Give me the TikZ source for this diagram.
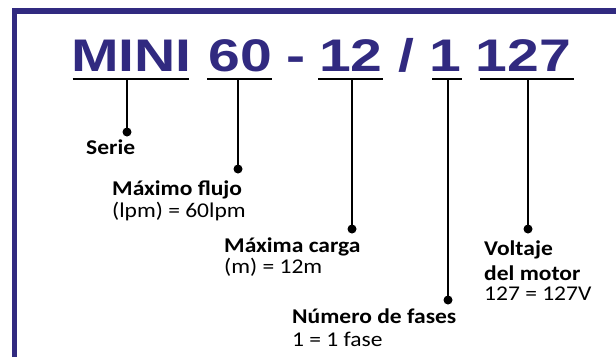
\documentclass[tikz,border=0pt]{standalone}
\usepackage{fontspec}
\setmainfont{Carlito}[FakeStretch=1.12]
\newfontfamily\titlefont{Liberation Sans}[FakeStretch=1.25]
\definecolor{navy}{RGB}{49,42,128}
\tikzset{
  titletext/.style={anchor=base,inner sep=0pt,text=navy,font=\titlefont\bfseries\fontsize{45.7}{50}\selectfont},
  lblbold/.style={anchor=base west,inner sep=0pt,font=\bfseries\fontsize{21}{24}\selectfont},
  lblreg/.style={anchor=base west,inner sep=0pt,font=\fontsize{21}{24}\selectfont},
  uline/.style={line width=2.5pt,black},
  stem/.style={line width=2.4pt,black},
  dotnode/.style={circle,fill=black,inner sep=0pt,minimum size=9pt},
  frameline/.style={line width=5.5pt,navy}
}
\begin{document}
\begin{tikzpicture}[x=1pt,y=-1pt]
\useasboundingbox (0,0) rectangle (616,357);
% frame
\coordinate (fbl) at (14.5,357);
\coordinate (ftl) at (14.5,11);
\coordinate (ftr) at (616,11);
\draw[frameline] (fbl) -- (ftl) -- (ftr);
% title
\node[titletext] (tmini) at (131.3,71.7) {MINI};
\node[titletext] (tsixty) at (240.4,71.7) {60};
\node[titletext] (tdash) at (296.5,71.7) {-};
\node[titletext] (ttwelve) at (350.8,71.7) {12};
\node[titletext] (tslash) at (406.5,71.7) {/};
\node[titletext] (tone) at (445.6,71.7) {1};
\node[titletext] (tvolt) at (523.6,71.7) {127};
% underlines
\coordinate (u1a) at (72.7,79); \coordinate (u1b) at (189,79);
\coordinate (u2a) at (207,79);  \coordinate (u2b) at (271.7,79);
\coordinate (u3a) at (318,79);  \coordinate (u3b) at (383,79);
\coordinate (u4a) at (432,79);  \coordinate (u4b) at (462,79);
\coordinate (u5a) at (480,79);  \coordinate (u5b) at (574,79);
\draw[uline] (u1a) -- (u1b);
\draw[uline] (u2a) -- (u2b);
\draw[uline] (u3a) -- (u3b);
\draw[uline] (u4a) -- (u4b);
\draw[uline] (u5a) -- (u5b);
% stems and dots
\coordinate (s1) at (127,79);
\coordinate (s2) at (238,79);
\coordinate (s3) at (352,79);
\coordinate (s4) at (448,79);
\coordinate (s5) at (528,79);
\node[dotnode] (d1) at (127,132) {};
\node[dotnode] (d2) at (238,169) {};
\node[dotnode] (d3) at (352,229) {};
\node[dotnode] (d4) at (448,300) {};
\node[dotnode] (d5) at (528,229) {};
\draw[stem] (s1) -- (d1.center);
\draw[stem] (s2) -- (d2.center);
\draw[stem] (s3) -- (d3.center);
\draw[stem] (s4) -- (d4.center);
\draw[stem] (s5) -- (d5.center);
% labels
\node[lblbold] (l1) at (86,154) {Serie};
\node[lblbold] (l2a) at (112,195) {Máximo flujo};
\node[lblreg] (l2b) at (112,217) {(lpm) = 60lpm};
\node[lblbold] (l3a) at (224,252) {Máxima carga};
\node[lblreg] (l3b) at (224,273) {(m) = 12m};
\node[lblbold] (l4a) at (292,323) {Número de fases};
\node[lblreg] (l4b) at (292,346) {1 = 1 fase};
\node[lblbold] (l5a) at (484,255) {Voltaje};
\node[lblbold] (l5b) at (484,280) {del motor};
\node[lblreg] (l5c) at (484,300) {127 = 127V};
\end{tikzpicture}
\end{document}
